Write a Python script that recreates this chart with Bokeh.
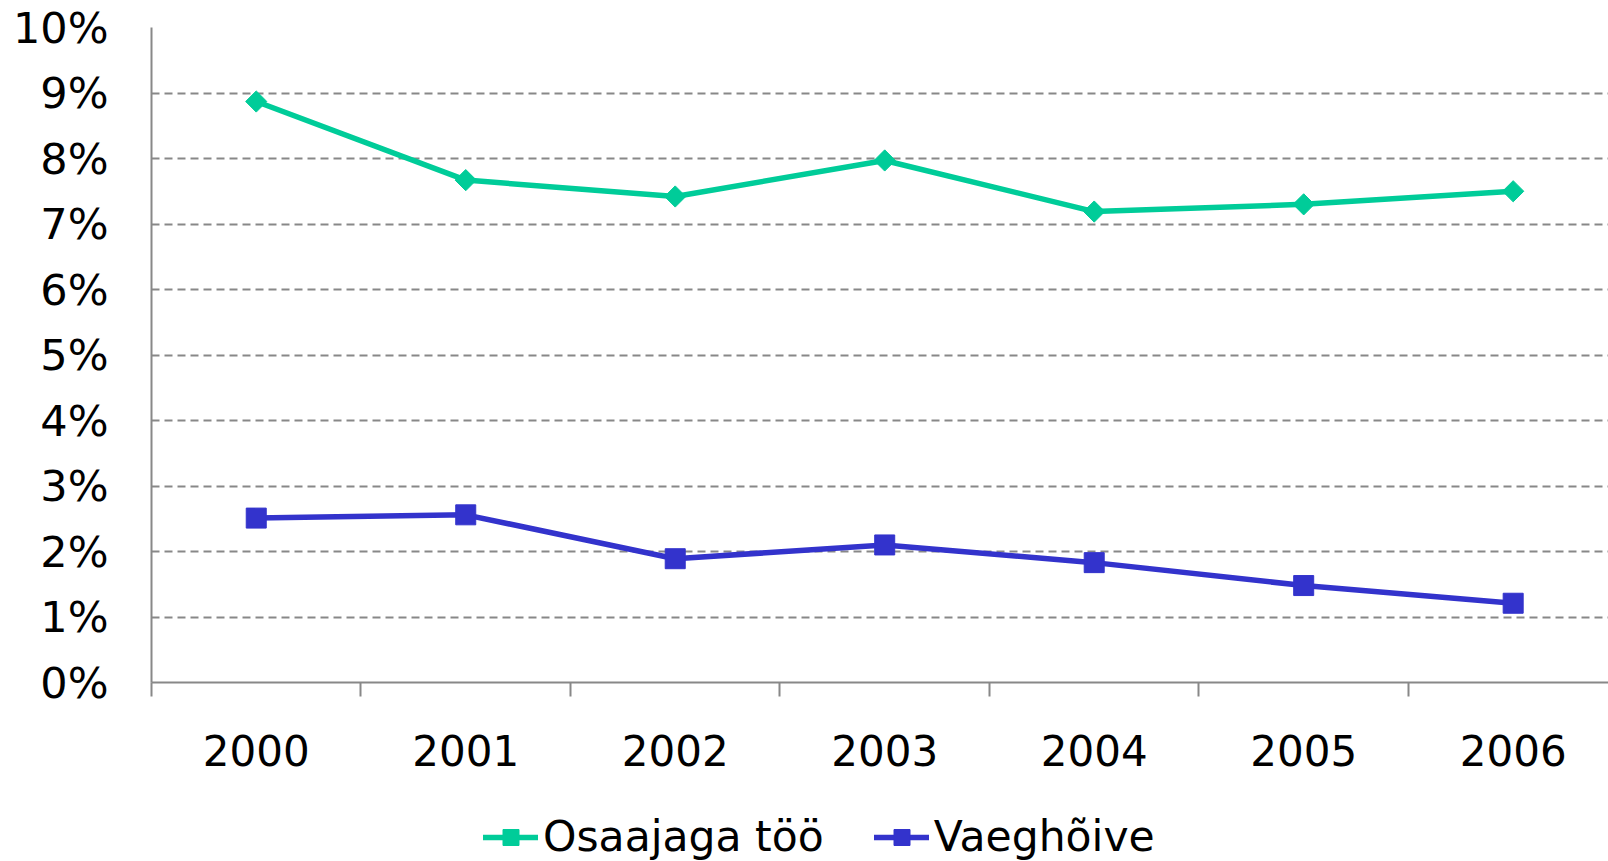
import math
from bokeh.plotting import figure
from bokeh.layouts import column
from bokeh.models import FixedTicker, Legend, LegendItem, Range1d, ColumnDataSource
from bokeh.embed import file_html
from bokeh.resources import INLINE

years = ["2000", "2001", "2002", "2003", "2004", "2005", "2006"]
osaajaga = [8.87, 7.67, 7.42, 7.97, 7.19, 7.30, 7.50]
vaeghoive = [2.51, 2.56, 1.89, 2.10, 1.83, 1.48, 1.21]
y_ticks = [0, 1, 2, 3, 4, 5, 6, 7, 8, 9, 10]
y_tick_labels = ["0%", "1%", "2%", "3%", "4%", "5%", "6%", "7%", "8%", "9%", "10%"]
series_names = ["Osaajaga töö", "Vaeghõive"]
green = "#00CC99"
blue = "#3333CC"
FONT = "DejaVu Sans"

xpos = list(range(len(years)))
src = ColumnDataSource(dict(x=xpos, a=osaajaga, b=vaeghoive))

p = figure(frame_width=1457, frame_height=655, output_backend="svg", toolbar_location=None,
           x_range=Range1d(-0.5, 6.455), y_range=Range1d(0, 10),
           min_border_left=151, min_border_top=27, min_border_right=0,
           min_border_bottom=118)
p.outline_line_color = None
p.background_fill_color = "white"
p.border_fill_color = "white"

# axes
p.xaxis.ticker = FixedTicker(ticks=xpos, minor_ticks=[i - 0.5 for i in range(len(years) + 1)])
p.xaxis.major_label_overrides = {i: y for i, y in enumerate(years)}
p.xaxis.major_tick_line_color = None
p.xaxis.minor_tick_line_color = "#888888"
p.xaxis.minor_tick_line_width = 2
p.xaxis.minor_tick_out = 14
p.xaxis.minor_tick_in = 0
p.xaxis.axis_line_color = "#888888"
p.xaxis.axis_line_width = 2
p.xaxis.major_label_text_font = FONT
p.xaxis.major_label_text_font_size = "42px"
p.xaxis.major_label_text_color = "black"
p.xaxis.major_label_standoff = 38

p.yaxis.ticker = FixedTicker(ticks=y_ticks)
p.yaxis.major_label_overrides = {t: l for t, l in zip(y_ticks, y_tick_labels)}
p.yaxis.major_tick_line_color = None
p.yaxis.minor_tick_line_color = None
p.yaxis.major_tick_out = 0
p.yaxis.major_tick_in = 0
p.yaxis.axis_line_color = "#888888"
p.yaxis.axis_line_width = 2
p.yaxis.major_label_text_font = FONT
p.yaxis.major_label_text_font_size = "43px"
p.yaxis.major_label_text_color = "black"
p.yaxis.major_label_standoff = 43

p.xgrid.grid_line_color = None
p.ygrid.grid_line_color = "#888888"
p.ygrid.grid_line_width = 2
p.ygrid.grid_line_dash = "8 5"

# series
line_a = dict(line_color=green, line_width=5.5, line_join="round")
mark_a = dict(marker="square", size=15, angle=math.pi / 4, fill_color=green, line_color=green)
line_b = dict(line_color=blue, line_width=5.5, line_join="round")
mark_b = dict(marker="square", size=20, fill_color=blue, line_color=blue)

p.line("x", "a", source=src, **line_a)
p.scatter("x", "a", source=src, **mark_a)
p.line("x", "b", source=src, **line_b)
p.scatter("x", "b", source=src, **mark_b)

# legend strip below the chart (its renderers fall outside its own ranges, so only the legend shows)
leg = figure(width=1608, height=61, output_backend="svg", toolbar_location=None,
             x_axis_type=None, y_axis_type=None, min_border=0,
             x_range=Range1d(0, 1), y_range=Range1d(0, 1))
leg.outline_line_color = None
leg.xgrid.visible = False
leg.ygrid.visible = False
r1 = leg.line("x", "a", source=src, line_cap="round", **line_a)
r2 = leg.scatter("x", "a", source=src, **mark_a)
r3 = leg.line("x", "b", source=src, line_cap="round", **line_b)
r4 = leg.scatter("x", "b", source=src, **mark_b)

legend = Legend(items=[LegendItem(label=series_names[0], renderers=[r1, r2]),
                       LegendItem(label=series_names[1], renderers=[r3, r4])],
                orientation="horizontal", location=(332, 0),
                label_text_font=FONT, label_text_font_size="42.5px",
                label_text_color="black", glyph_width=55, glyph_height=40,
                label_standoff=5, spacing=50, padding=0, margin=0,
                border_line_color=None, background_fill_alpha=0)
leg.add_layout(legend, "center")

layout = column(p, leg, spacing=0)
html = file_html(layout, INLINE)
html = html.replace("<head>", "<head><style>html,body{overflow:hidden;}</style>", 1)
open("out.html", "w").write(html)
